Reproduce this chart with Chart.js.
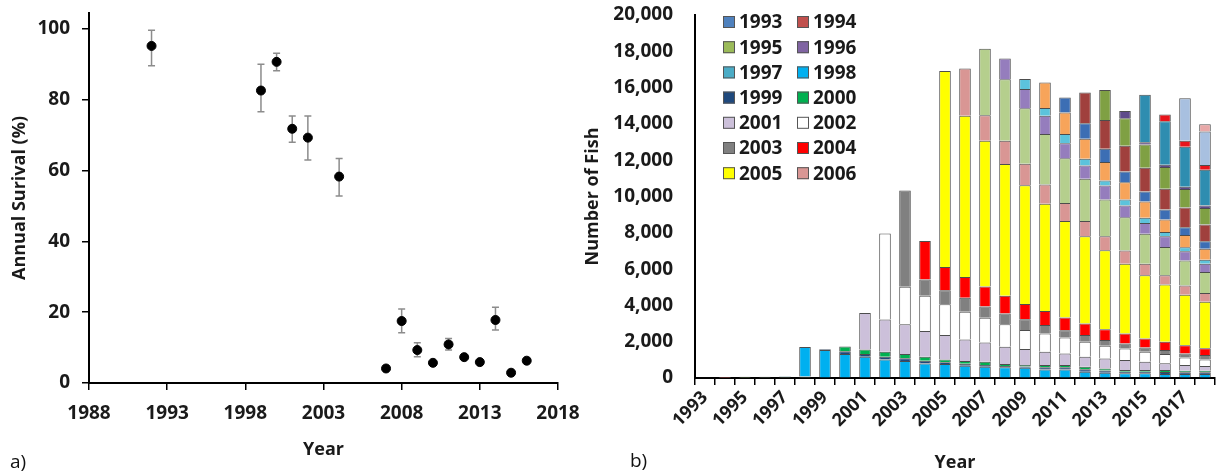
<!DOCTYPE html>
<html>
<head>
<meta charset="utf-8">
<script src="https://cdn.jsdelivr.net/npm/chart.js@4.4.1/dist/chart.umd.min.js"></script>
<style>
    body { margin: 0; background: #fff; width: 1225px; height: 474px; overflow: hidden; position: relative; font-family: 'Open Sans', sans-serif; }
    #survival { position: absolute; left: 0; top: 0; }
    #fish { position: absolute; left: 580px; top: 0; }
    .panel-tag { position: absolute; font-size: 19px; line-height: 20px; color: #111; }
</style>
</head>
<body>
<canvas id="survival" width="580" height="474"></canvas>
<canvas id="fish" width="645" height="474"></canvas>
<div class="panel-tag" style="left:10px; top:451px;">a)</div>
<div class="panel-tag" style="left:630px; top:450px;">b)</div>
<script>
// ==========================================
// a) annual survival, b) number of fish by cohort
// ==========================================

// --- panel a data ---
const survivalYears = [1992, 1999, 2000, 2001, 2002, 2004, 2007, 2008, 2009, 2010, 2011, 2012, 2013, 2014, 2015, 2016];
const survivalRate  = [95.2, 82.6, 90.7, 71.8, 69.3, 58.3, 4.1, 17.5, 9.3, 5.7, 10.9, 7.3, 5.9, 17.8, 2.9, 6.3];
const survivalLow   = [89.6, 76.6, 88.2, 68.0, 63.0, 52.8, null, 14.2, 7.4, null, 9.3, null, null, 15.0, null, null];
const survivalHigh  = [99.6, 90.0, 93.1, 75.4, 75.4, 63.4, null, 20.9, 11.4, null, 12.6, null, null, 21.4, null, null];
const survivalTicks = [0, 20, 40, 60, 80, 100];

// --- panel b data (each cohort starts in its own year) ---
const yearLabels = ['1993', '1994', '1995', '1996', '1997', '1998', '1999', '2000', '2001', '2002', '2003', '2004', '2005',
    '2006', '2007', '2008', '2009', '2010', '2011', '2012', '2013', '2014', '2015', '2016', '2017', '2018'];

const cohort1993 = [40, 20, 10, 10, 10, 10];
const cohort1994 = [30, 20, 10, 10, 10];
const cohort1995 = [40, 20, 20, 20];
const cohort1996 = [30, 20, 20];
const cohort1997 = [20, 20];
const cohort1998 = [1630, 1540, 1320, 1170, 1025, 935, 805, 770, 680, 620, 590, 570, 475, 475, 350, 290, 255, 255, 220, 220, 220];
const cohort1999 = [40, 150, 150, 150, 150, 150, 100, 100, 100, 70, 60, 120, 120, 130, 120, 90, 90, 110, 90, 90];
const cohort2000 = [260, 256, 275, 240, 220, 156, 156, 175, 110, 90, 120, 120, 145, 120, 90, 90, 110, 90, 90];
const cohort2001 = [2010, 1780, 1630, 1410, 1340, 1190, 1060, 950, 880, 730, 640, 550, 550, 550, 460, 370, 310, 255];
const cohort2002 = [4725, 2070, 1940, 1700, 1520, 1370, 1245, 1045, 1010, 880, 820, 700, 640, 550, 510, 420, 370];
const cohort2003 = [5310, 900, 770, 770, 620, 590, 590, 460, 400, 370, 310, 275, 240, 220, 220, 240];
const cohort2004 = [2125, 1280, 1150, 1100, 970, 840, 770, 700, 640, 590, 550, 495, 460, 460, 370];
const cohort2005 = [10800, 8880, 8020, 7270, 6540, 5915, 5310, 4800, 4360, 3850, 3480, 3150, 2780, 2560];
const cohort2006 = [2600, 1410, 1280, 1190, 1060, 990, 840, 770, 730, 640, 510, 510, 495];
const cohort2007 = [3660, 3390, 3060, 2780, 2470, 2330, 2030, 1830, 1650, 1560, 1370, 1150];
const cohort2008 = [1135, 1060, 1010, 825, 730, 770, 640, 590, 590, 510, 460];
const cohort2009 = [550, 420, 510, 370, 275, 330, 290, 240, 220, 220];
const cohort2010 = [1410, 1190, 1100, 1010, 950, 900, 680, 680, 600];
const cohort2011 = [825, 860, 730, 600, 550, 550, 420, 420];
const cohort2012 = [1700, 1590, 1410, 1300, 1150, 1100, 915];
const cohort2013 = [1650, 1520, 1280, 1190, 1010, 915];
const cohort2014 = [400, 130, 130, 130, 130];
const cohort2015 = [2620, 2400, 2200, 1980];
const cohort2016 = [370, 330, 255];
const cohort2017 = [2340, 1850];
const cohort2018 = [400];

const cohortSeries = [cohort1993, cohort1994, cohort1995, cohort1996, cohort1997, cohort1998, cohort1999, cohort2000,
    cohort2001, cohort2002, cohort2003, cohort2004, cohort2005, cohort2006, cohort2007, cohort2008, cohort2009,
    cohort2010, cohort2011, cohort2012, cohort2013, cohort2014, cohort2015, cohort2016, cohort2017, cohort2018];

const cohortColors = ['#4f81bd', '#c0504d', '#9bbb59', '#8064a2', '#4bacc6', '#00b0f0', '#1f497d', '#00b050',
    '#ccc0da', '#ffffff', '#808080', '#ff0000', '#ffff00', '#d99694', '#b5cf8d', '#957dbd', '#5cc3dc',
    '#f7a45a', '#3c6eb4', '#a0403d', '#7fa043', '#5f4b8b', '#2e8db0', '#e8141b', '#a8c0e0', '#e8a8a8'];

const legendCount = 14;   // only 1993-2006 appear in the key

const inkColor = '#1a1a1a';
const tickFont = { family: "'Open Sans', sans-serif", size: 19, weight: 'bold' };
const rotFont = { family: "'Open Sans', sans-serif", size: 18, weight: 'bold' };
const titleFont = { family: "'Open Sans', sans-serif", size: 18, weight: 'bold' };

// keep the plot box where the layout padding says, not where edge labels push it
function fixWidth(w) {
    return scale => { scale.width = w; scale.paddingTop = 0; scale.paddingBottom = 0; };
}
function fixHeight(h) {
    return scale => { scale.height = h; scale.paddingLeft = 0; scale.paddingRight = 0; };
}

// error bars drawn from the chart's own scales
const errorBars = {
    id: 'errorBars',
    beforeDatasetsDraw(chart) {
        const { ctx, scales: { x, y } } = chart;
        ctx.save();
        ctx.strokeStyle = '#8c8c8c';
        ctx.lineWidth = 1.5;
        survivalYears.forEach((yr, i) => {
            if (survivalLow[i] == null) return;
            const px = x.getPixelForValue(yr);
            const top = y.getPixelForValue(survivalHigh[i]);
            const bot = y.getPixelForValue(survivalLow[i]);
            ctx.beginPath();
            ctx.moveTo(px, top); ctx.lineTo(px, bot);
            ctx.moveTo(px - 3.5, top); ctx.lineTo(px + 3.5, top);
            ctx.moveTo(px - 3.5, bot); ctx.lineTo(px + 3.5, bot);
            ctx.stroke();
        });
        ctx.restore();
    }
};

// two-column key inside the plot
const cohortLegend = {
    id: 'cohortLegend',
    afterDraw(chart) {
        const { ctx, chartArea } = chart;
        ctx.save();
        ctx.font = "bold 19px 'Open Sans', sans-serif";
        ctx.textBaseline = 'middle';
        ctx.textAlign = 'left';
        for (let i = 0; i < legendCount; i++) {
            const ds = chart.data.datasets[i];
            const col = i % 2, row = Math.floor(i / 2);
            const bx = chartArea.left + 28 + col * 74;
            const cy = 22 + row * 25.2;
            ctx.fillStyle = ds.backgroundColor;
            ctx.fillRect(bx, cy - 6, 12, 12);
            ctx.strokeStyle = '#555';
            ctx.lineWidth = 1;
            ctx.strokeRect(bx + 0.5, cy - 5.5, 11, 11);
            ctx.fillStyle = inkColor;
            ctx.fillText(ds.label, bx + 16, cy + 1);
        }
        ctx.restore();
    }
};

new Chart(document.getElementById('survival'), {
    type: 'scatter',
    data: {
        datasets: [{
            data: survivalYears.map((yr, i) => ({ x: yr, y: survivalRate[i] })),
            backgroundColor: '#000',
            borderColor: '#000',
            pointRadius: 4.5
        }]
    },
    options: {
        responsive: false,
        animation: false,
        layout: { padding: { left: 0, top: 13, right: 22, bottom: 0 } },
        plugins: { legend: { display: false }, tooltip: { enabled: false } },
        scales: {
            x: {
                type: 'linear', min: 1988, max: 2018,
                ticks: { stepSize: 5, padding: 12, color: inkColor, font: tickFont, callback: v => String(v) },
                grid: { drawOnChartArea: false, drawTicks: true, tickLength: 7, color: '#000', lineWidth: 1.5 },
                border: { color: '#000', width: 2 },
                title: { display: true, text: 'Year', color: inkColor, font: titleFont, padding: { top: 0, bottom: 13 } },
                afterFit: fixHeight(91)
            },
            y: {
                min: 0, max: 104.5,
                ticks: { padding: 12, color: inkColor, font: tickFont },
                afterBuildTicks(scale) { scale.ticks = survivalTicks.map(v => ({ value: v })); },
                grid: { drawOnChartArea: false, drawTicks: true, tickLength: 7, color: '#000', lineWidth: 1.5 },
                border: { color: '#000', width: 2 },
                title: { display: true, text: 'Annual Surival (%)', color: inkColor, font: titleFont, padding: { top: 9, bottom: 0 } },
                afterFit: fixWidth(89)
            }
        }
    },
    plugins: [errorBars]
});

new Chart(document.getElementById('fish'), {
    type: 'bar',
    data: {
        labels: yearLabels,
        datasets: cohortSeries.map((series, k) => ({
            label: yearLabels[k],
            data: new Array(k).fill(null).concat(series),
            backgroundColor: cohortColors[k],
            borderColor: '#4d4d4d',
            borderWidth: 1,
            barPercentage: 0.58,
            categoryPercentage: 1
        }))
    },
    options: {
        responsive: false,
        animation: false,
        layout: { padding: { left: 0, top: 15, right: 10, bottom: 0 } },
        plugins: { legend: { display: false }, tooltip: { enabled: false } },
        scales: {
            x: {
                stacked: true,
                grid: { offset: true, drawOnChartArea: false, drawTicks: true, tickLength: 7, color: '#000', lineWidth: 1.5 },
                border: { color: '#000', width: 2 },
                ticks: {
                    autoSkip: false, minRotation: 45, maxRotation: 45, padding: 2,
                    color: inkColor, font: rotFont,
                    callback: function (v, i) { return i % 2 === 0 ? this.getLabelForValue(v) : ''; }
                },
                title: { display: true, text: 'Year', color: inkColor, font: titleFont, padding: { top: 0, bottom: 0 } },
                afterFit: fixHeight(96)
            },
            y: {
                stacked: true, min: 0, max: 20000,
                ticks: { stepSize: 2000, padding: 22, color: inkColor, font: tickFont, callback: v => v.toLocaleString('en-US') },
                grid: { drawOnChartArea: false, drawTicks: false },
                border: { color: '#000', width: 2 },
                title: { display: true, text: 'Number of Fish', color: inkColor, font: titleFont, padding: { top: 2, bottom: 0 } },
                afterFit: fixWidth(115)
            }
        }
    },
    plugins: [cohortLegend]
});
</script>
</body>
</html>
